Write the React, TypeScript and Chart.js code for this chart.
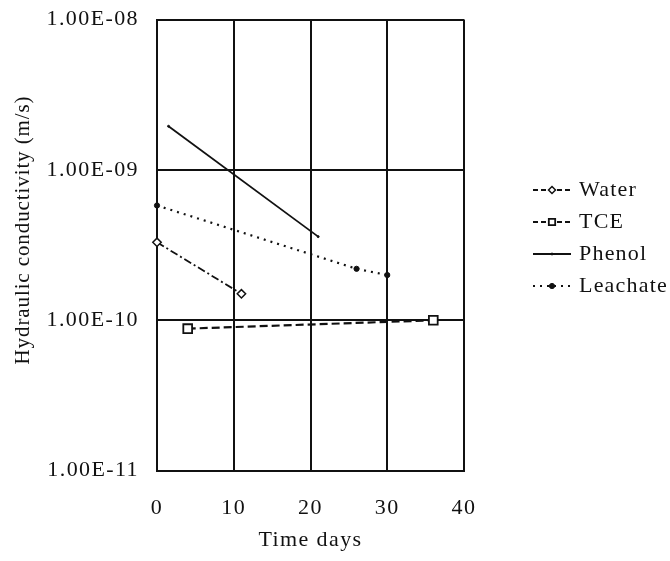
import React, { useEffect, useRef } from 'react';
import { Chart, registerables } from 'chart.js';

Chart.register(...registerables);

// ---- data ----
const seriesNames = ['Water', 'TCE', 'Phenol', 'Leachate'];
const waterDays = [0, 11];
const waterK = [3.3e-10, 1.5e-10];
const tceDays = [4, 36];
const tceK = [8.8e-11, 1.0e-10];
const phenolDays = [1.5, 21];
const phenolK = [1.95e-9, 3.6e-10];
const leachateDays = [0, 26, 30];
const leachateK = [5.8e-10, 2.2e-10, 2.0e-10];
const xTickValues = [0, 10, 20, 30, 40];
const yTickValues = [1e-11, 1e-10, 1e-9, 1e-8];
const xTitle = 'Time days';
const yTitle = 'Hydraulic conductivity (m/s)';

const INK = '#111111';
const FONT = "'Liberation Serif', 'Times New Roman', serif";
const SPACING = '1.4px';

function fmtSci(v: number): string {
  const e = Math.round(Math.log10(v));
  const m = v / Math.pow(10, e);
  return m.toFixed(2) + 'E' + (e < 0 ? '-' : '+') + String(Math.abs(e)).padStart(2, '0');
}

function pts(xs: number[], ys: number[]) {
  return xs.map((x, i) => ({ x, y: ys[i] }));
}

const spacingPlugin = {
  id: 'letterSpacing',
  beforeUpdate(chart: any) { chart.ctx.letterSpacing = SPACING; },
  beforeLayout(chart: any) { chart.ctx.letterSpacing = SPACING; },
  beforeDraw(chart: any) { chart.ctx.letterSpacing = SPACING; },
};

function drawMarker(ctx: CanvasRenderingContext2D, style: string, x: number, y: number, r: number, fill: string) {
  ctx.beginPath();
  if (style === 'rectRot') {
    ctx.moveTo(x - r, y); ctx.lineTo(x, y - r); ctx.lineTo(x + r, y); ctx.lineTo(x, y + r); ctx.closePath();
  } else if (style === 'rect') {
    const s = r * Math.SQRT1_2;
    ctx.rect(x - s, y - s, 2 * s, 2 * s);
  } else {
    ctx.arc(x, y, r, 0, Math.PI * 2);
  }
  ctx.fillStyle = fill;
  ctx.fill();
  ctx.stroke();
}

const yTitlePlugin = {
  id: 'yTitle',
  afterDraw(chart: any) {
    const ctx: CanvasRenderingContext2D = chart.ctx;
    ctx.save();
    ctx.letterSpacing = '0.9px';
    ctx.translate(23, 230);
    ctx.rotate(-Math.PI / 2);
    ctx.fillStyle = INK;
    ctx.font = `21px ${FONT}`;
    ctx.textAlign = 'center';
    ctx.textBaseline = 'middle';
    ctx.fillText(yTitle, 0, 0);
    ctx.restore();
  },
};

const legendPlugin = {
  id: 'sideLegend',
  afterDraw(chart: any) {
    const ctx: CanvasRenderingContext2D = chart.ctx;
    const x0 = 533, x1 = 571, tx = 579, y0 = 190, dy = 32;
    ctx.save();
    ctx.letterSpacing = '1.2px';
    chart.data.datasets.forEach((ds: any, i: number) => {
      const y = y0 + i * dy;
      ctx.strokeStyle = INK;
      ctx.lineWidth = ds.borderWidth;
      ctx.setLineDash(ds.legendDash || ds.borderDash || []);
      ctx.beginPath();
      ctx.moveTo(x0, y); ctx.lineTo(x1, y);
      ctx.stroke();
      ctx.setLineDash([]);
      ctx.lineWidth = ds.pointBorderWidth;
      drawMarker(ctx, ds.pointStyle, (x0 + x1) / 2, y, ds.legendRadius, ds.pointBackgroundColor);
      ctx.fillStyle = INK;
      ctx.font = `22px ${FONT}`;
      ctx.textAlign = 'left';
      ctx.textBaseline = 'middle';
      ctx.fillText(ds.label, tx, y);
    });
    ctx.restore();
  },
};

export default function App() {
  const ref = useRef<HTMLCanvasElement>(null);
  useEffect(() => {
    if (!ref.current) return;
    const chart = new Chart(ref.current, {
      type: 'line',
      data: {
        datasets: [
          {
            label: seriesNames[0], data: pts(waterDays, waterK),
            borderColor: INK, borderWidth: 1.8, borderDash: [8, 3, 2, 3], legendDash: [5, 3],
            pointStyle: 'rectRot', pointRadius: 4.2, pointBorderWidth: 1.5,
            pointBackgroundColor: '#fff', pointBorderColor: INK, legendRadius: 3.5,
          } as any,
          {
            label: seriesNames[1], data: pts(tceDays, tceK),
            borderColor: INK, borderWidth: 2.2, borderDash: [8, 4], legendDash: [5, 3],
            pointStyle: 'rect', pointRadius: 6.2, pointBorderWidth: 1.8,
            pointBackgroundColor: '#fff', pointBorderColor: INK, legendRadius: 4.5,
          } as any,
          {
            label: seriesNames[2], data: pts(phenolDays, phenolK),
            borderColor: INK, borderWidth: 1.8, borderDash: [],
            pointStyle: 'circle', pointRadius: 1, pointBorderWidth: 1,
            pointBackgroundColor: INK, pointBorderColor: INK, legendRadius: 1,
          } as any,
          {
            label: seriesNames[3], data: pts(leachateDays, leachateK),
            borderColor: INK, borderWidth: 2.2, borderDash: [2, 5],
            pointStyle: 'circle', pointRadius: 2.6, pointBorderWidth: 1,
            pointBackgroundColor: INK, pointBorderColor: INK, legendRadius: 2.6,
          } as any,
        ],
      },
      options: {
        animation: false,
        responsive: false,
        maintainAspectRatio: false,
        clip: false as any,
        layout: { padding: { left: 0, top: 19.5, right: 206, bottom: 0 } },
        plugins: { legend: { display: false }, tooltip: { enabled: false } },
        scales: {
          x: {
            type: 'linear', min: 0, max: 40,
            afterFit: (s: any) => { s.height = 90.3; s.paddingLeft = 0; s.paddingRight = 0; },
            afterBuildTicks: (s: any) => { s.ticks = xTickValues.map((v) => ({ value: v })); },
            ticks: { color: INK, font: { family: FONT, size: 22 }, padding: 24, maxRotation: 0 },
            grid: { color: INK, lineWidth: 2, drawTicks: false },
            border: { color: INK, width: 2 },
            title: { display: true, text: xTitle, color: INK, font: { family: FONT, size: 22 }, padding: { top: 0, bottom: 8 } },
          },
          y: {
            type: 'logarithmic', min: 1e-11, max: 1e-8,
            afterFit: (s: any) => { s.width = 157; s.paddingTop = 0; s.paddingBottom = 0; },
            afterBuildTicks: (s: any) => { s.ticks = yTickValues.map((v) => ({ value: v })); },
            ticks: { color: INK, font: { family: FONT, size: 22 }, padding: 18, callback: (v: any) => fmtSci(Number(v)) },
            grid: { color: INK, lineWidth: 2, drawTicks: false },
            border: { color: INK, width: 2 },
            title: { display: false },
          },
        },
      },
      plugins: [spacingPlugin, yTitlePlugin, legendPlugin],
    });
    return () => chart.destroy();
  }, []);
  return (
    <div style={{ position: 'absolute', left: 0, top: 0, width: 670, height: 561, background: '#fff' }}>
      <canvas ref={ref} width={670} height={561} />
    </div>
  );
}
